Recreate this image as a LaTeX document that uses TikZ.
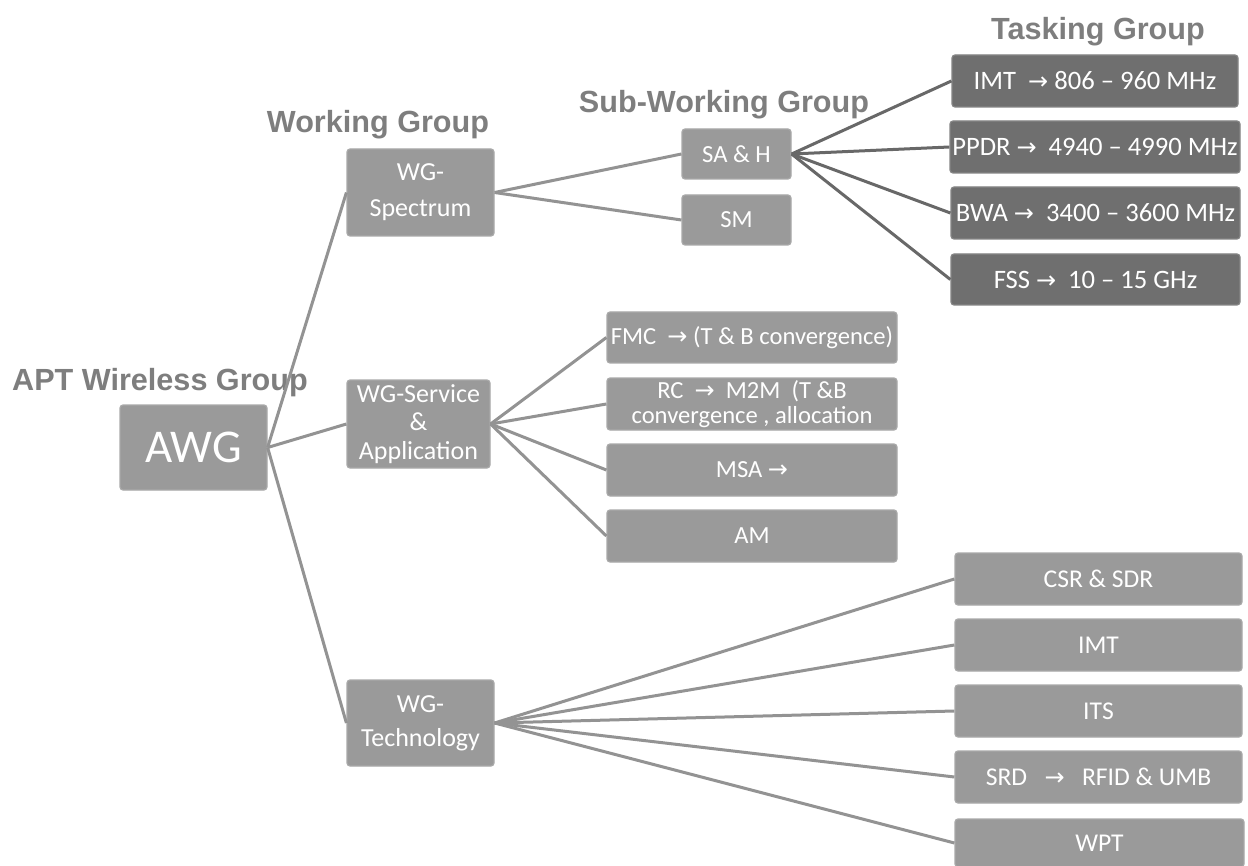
\documentclass[tikz,border=0pt]{standalone}
\usepackage{fontspec}
\setmainfont{Carlito}
\newfontfamily\hdrfont{Liberation Sans}
\newfontfamily\symfont{DejaVu Sans}
\newcommand{\ar}{{\symfont\fontsize{12}{12}\selectfont →}}
\definecolor{boxgray}{HTML}{9A9A9A}
\definecolor{darkbox}{HTML}{6F6F6F}
\definecolor{linegray}{HTML}{939393}
\definecolor{darkline}{HTML}{686868}
\definecolor{hdrgray}{HTML}{7E7E7E}
\tikzset{
  box/.style={draw=boxgray!85!white, line width=0.6pt, fill=boxgray, rounded corners=1.5pt, text=white, align=center, inner sep=1pt, font=\fontsize{12.3}{14.5}\selectfont},
  tbox/.style={box, fill=darkbox, draw=darkbox!85!white, font=\fontsize{13.3}{15}\selectfont},
  cbox/.style={box, font=\fontsize{12.8}{15}\selectfont},
  conn/.style={draw=linegray, line width=1.5pt},
  tconn/.style={draw=darkline, line width=1.5pt},
  hdr/.style={text=hdrgray, font=\hdrfont\bfseries\fontsize{15.3}{17}\selectfont, inner sep=0pt}
}
\begin{document}
\begin{tikzpicture}[x=0.5pt,y=-0.5pt]
\useasboundingbox[fill=white] (0,0) rectangle (1248,866);
% headers
\node[hdr] (h1) at (160,383) {APT Wireless Group};
\node[hdr] (h2) at (378,125) {Working Group};
\node[hdr] (h3) at (724,105) {Sub-Working Group};
\node[hdr] (h4) at (1098,32) {Tasking Group};
% root
\node[box, minimum width=73.5pt, minimum height=42.5pt, font=\fontsize{23.5}{25}\selectfont] (awg) at (193.5,447.5) {AWG};
% working groups
\node[box, minimum width=73.5pt, minimum height=43.5pt, font=\fontsize{13}{18}\selectfont] (wgs) at (420.5,192.5) {WG-\\Spectrum};
\node[box, minimum width=71.5pt, minimum height=44pt, font=\fontsize{13}{14.3}\selectfont] (wga) at (418.5,424) {WG-Service\\\&\\Application};
\node[box, minimum width=73.5pt, minimum height=43pt, font=\fontsize{13}{17}\selectfont] (wgt) at (420.5,723) {WG-\\Technology};
% sub working groups
\node[box, minimum width=54.5pt, minimum height=25pt] (sah) at (736.5,154) {SA \& H};
\node[box, minimum width=54.5pt, minimum height=25pt] (sm) at (736.5,220) {SM};
% tasking groups
\node[tbox, minimum width=143pt, minimum height=26pt] (t1) at (1095,81) {IMT \ \ar\ 806 – 960 MHz};
\node[tbox, minimum width=145pt, minimum height=26pt] (t2) at (1095,147) {PPDR \ar\ \ 4940 – 4990 MHz};
\node[tbox, minimum width=144.5pt, minimum height=26pt] (t3) at (1095.5,213) {BWA \ar\ \ 3400 – 3600 MHz};
\node[tbox, minimum width=144.5pt, minimum height=25.5pt] (t4) at (1095.5,279.5) {FSS \ar\ \ 10 – 15 GHz};
% service & application
\node[box, minimum width=145pt, minimum height=25.5pt] (s1) at (752,337.5) {FMC \ \ar\ (T \& B convergence)};
\node[box, minimum width=145pt, minimum height=26pt, font=\fontsize{12.3}{12.5}\selectfont] (s2) at (752,404) {RC \ \ar\ \ M2M \ (T \&B\\convergence , allocation};
\node[box, minimum width=145pt, minimum height=26pt] (s3) at (752,470) {MSA \ar};
\node[box, minimum width=145pt, minimum height=26pt] (s4) at (752,536) {AM};
% technology
\node[cbox, minimum width=143.5pt, minimum height=26pt] (c1) at (1098.5,579) {CSR \& SDR};
\node[cbox, minimum width=143.5pt, minimum height=26pt] (c2) at (1098.5,645) {IMT};
\node[cbox, minimum width=143.5pt, minimum height=26pt] (c3) at (1098.5,711) {ITS};
\node[cbox, minimum width=143.5pt, minimum height=26pt] (c4) at (1098.5,777) {SRD \ \ \ar\ \ \ RFID \& UMB};
\node[cbox, minimum width=144.5pt, minimum height=24pt] (c5) at (1099.5,843) {WPT};
% connectors
\draw[conn] (awg.east) -- (wgs.west);
\draw[conn] (awg.east) -- (wga.west);
\draw[conn] (awg.east) -- (wgt.west);
\draw[conn] (wgs.east) -- (sah.west);
\draw[conn] (wgs.east) -- (sm.west);
\foreach \t in {t1,t2,t3,t4} \draw[tconn] (sah.east) -- (\t.west);
\foreach \s in {s1,s2,s3,s4} \draw[conn] (wga.east) -- (\s.west);
\foreach \c in {c1,c2,c3,c4,c5} \draw[conn] (wgt.east) -- (\c.west);
\end{tikzpicture}
\end{document}
